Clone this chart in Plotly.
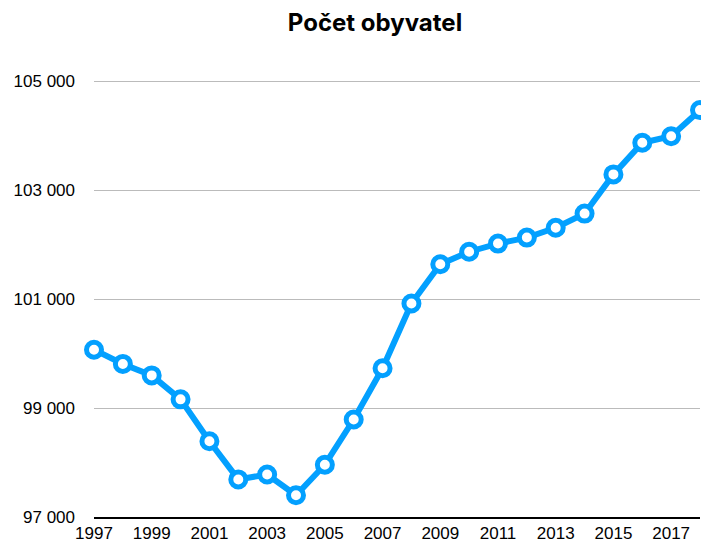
import plotly.graph_objects as go

years = list(range(1997, 2019))
population = [100070, 99810, 99600, 99160, 98390, 97690, 97780, 97400, 97960, 98790,
              99730, 100920, 101640, 101870, 102020, 102130, 102310, 102570, 103290,
              103870, 103990, 104470]
x_ticks = list(range(1997, 2018, 2))
y_ticks = [97000, 99000, 101000, 103000, 105000]
y_labels = ["97 000", "99 000", "101 000", "103 000", "105 000"]

BLUE = "#03A0FF"
W, H = 701, 535

fig = go.Figure()
fig.add_trace(go.Scatter(
    x=years, y=population, mode="lines+markers",
    line=dict(color=BLUE, width=6),
    marker=dict(size=15, color="white", line=dict(color=BLUE, width=5)),
    cliponaxis=False, hoverinfo="x+y",
))

fig.update_layout(
    width=W, height=H,
    margin=dict(l=86, r=9, t=46, b=26),
    paper_bgcolor="white", plot_bgcolor="white",
    showlegend=False,
    title=dict(text="<b>Počet obyvatel</b>", x=367/W, xanchor="center",
               y=1 - 15/H, yanchor="middle",
               font=dict(family="Inter", size=24, color="black")),
    font=dict(family="Liberation Sans", size=17, color="black"),
)
fig.update_xaxes(
    range=[1997, 2018], tickvals=x_ticks, ticktext=[str(v) for v in x_ticks],
    showgrid=False, zeroline=False, showline=True, linecolor="black", linewidth=2,
    ticks="", tickfont=dict(size=17), automargin=False,
)
fig.update_yaxes(
    range=[97000, 105500], tickvals=y_ticks, ticktext=y_labels,
    showgrid=True, gridcolor="#BBBBBB", gridwidth=1, zeroline=False, showline=False,
    ticks="", ticklabelstandoff=18, tickfont=dict(size=17), automargin=False,
)

fig.write_html("out.html")
